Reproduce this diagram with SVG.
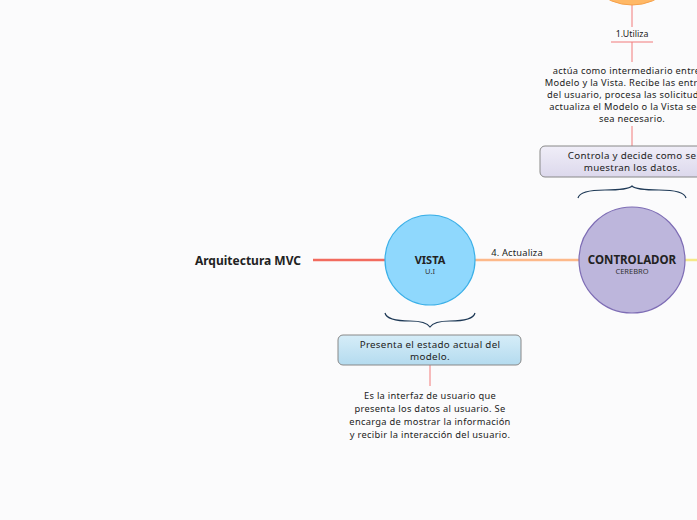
<svg xmlns="http://www.w3.org/2000/svg" width="697" height="520" viewBox="0 0 697 520">
<defs>
<style>
text{font-family:"Noto Sans","Liberation Sans",sans-serif;fill:#222;}
.t{font-size:9.3px;letter-spacing:0.3px;text-anchor:middle;}
.b{font-size:9.8px;letter-spacing:0.3px;text-anchor:middle;}
.h{font-weight:bold;text-anchor:middle;}
.brace{fill:none;stroke:#1f3a57;stroke-width:1.2;}
</style>
<linearGradient id="gv" x1="0" y1="0" x2="0" y2="1"><stop offset="0" stop-color="#d6edf8"/><stop offset="1" stop-color="#b4dbef"/></linearGradient>
<linearGradient id="gc" x1="0" y1="0" x2="0" y2="1"><stop offset="0" stop-color="#f0eef8"/><stop offset="1" stop-color="#dcd8ec"/></linearGradient>
</defs>
<rect width="697" height="520" fill="#fbfbfc"/>
<g id="connectors">
<line x1="313" y1="260" x2="386" y2="260" stroke="#f26b5e" stroke-width="2.5"/>
<line x1="475" y1="260" x2="580" y2="260" stroke="#fdb98a" stroke-width="2.5"/>
<line x1="684" y1="260" x2="697" y2="260" stroke="#f5e98a" stroke-width="2.5"/>
<line x1="632" y1="5" x2="632" y2="27" stroke="#f27a7a" stroke-width="1"/>
<line x1="611" y1="42" x2="653" y2="42" stroke="#f27a7a" stroke-width="1.2"/>
<line x1="632" y1="42" x2="632" y2="62" stroke="#f27a7a" stroke-width="1"/>
<line x1="632" y1="126" x2="632" y2="146" stroke="#f27a7a" stroke-width="1"/>
<line x1="430" y1="365" x2="430" y2="386" stroke="#f27a7a" stroke-width="1"/>
<text x="517" y="256" style="font-size:9.3px;letter-spacing:0.2px;text-anchor:middle">4. Actualiza</text>
<text x="632" y="37" style="font-size:8.8px;text-anchor:middle">1.Utiliza</text>
</g>
<g id="title"><text x="248" y="265" class="h" style="font-size:12px">Arquitectura MVC</text></g>
<g id="modelo"><circle cx="632" cy="-48" r="53" fill="#ffb866" stroke="#f5a04a" stroke-width="1"/></g>
<g id="controlador-desc">
<text class="t" x="632" y="74">actúa como intermediario entre el</text>
<text class="t" x="632" y="86">Modelo y la Vista. Recibe las entradas</text>
<text class="t" x="632" y="98">del usuario, procesa las solicitudes y</text>
<text class="t" x="632" y="110">actualiza el Modelo o la Vista según</text>
<text class="t" x="632" y="122">sea necesario.</text>
</g>
<g id="controlador-box">
<rect x="540" y="146" width="184" height="31" rx="5" fill="url(#gc)" stroke="#888" stroke-width="1"/>
<text class="b" x="632" y="159">Controla y decide como se</text>
<text class="b" x="632" y="171">muestran los datos.</text>
<path class="brace" d="M578,198 Q580,190 605,190 Q628,190 632,186 Q636,190 659,190 Q684,190 686,198"/>
</g>
<g id="controlador">
<circle cx="632" cy="260" r="53" fill="#bdb6dc" stroke="#7e6db5" stroke-width="1.2"/>
<text x="632" y="264" class="h" style="font-size:11.5px">CONTROLADOR</text>
<text x="632" y="274" style="font-size:7.5px;text-anchor:middle;fill:#333">CEREBRO</text>
</g>
<g id="vista">
<circle cx="430" cy="260" r="45" fill="#8fd8fd" stroke="#3bb0e8" stroke-width="1.2"/>
<text x="430" y="264" class="h" style="font-size:11px">VISTA</text>
<text x="430" y="274" style="font-size:7.5px;text-anchor:middle;fill:#333">U.I</text>
</g>
<g id="vista-box">
<path class="brace" d="M385,313 Q387,321 410,321 Q426,321 430,327 Q434,321 450,321 Q473,321 475,313"/>
<rect x="338" y="335" width="183" height="30" rx="5" fill="url(#gv)" stroke="#888" stroke-width="1"/>
<text class="b" x="430" y="348">Presenta el estado actual del</text>
<text class="b" x="430" y="360">modelo.</text>
</g>
<g id="vista-desc">
<text class="t" x="430" y="399">Es la interfaz de usuario que</text>
<text class="t" x="430" y="412">presenta los datos al usuario. Se</text>
<text class="t" x="430" y="425">encarga de mostrar la información</text>
<text class="t" x="430" y="438">y recibir la interacción del usuario.</text>
</g>
</svg>
